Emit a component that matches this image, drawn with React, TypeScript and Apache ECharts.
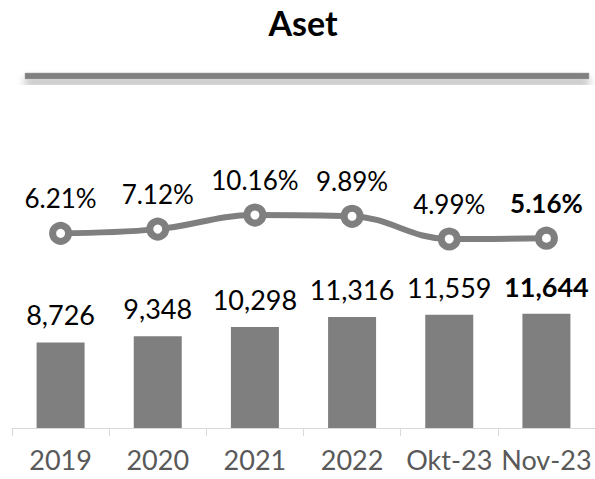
import React, { useEffect, useRef } from "react";
import * as echarts from "echarts";

const categories = ["2019", "2020", "2021", "2022", "Okt-23", "Nov-23"];
const assetValues = [8726, 9348, 10298, 11316, 11559, 11644];
const growthValues = [6.21, 7.12, 10.16, 9.89, 4.99, 5.16];
const titleText = "Aset";

const FONT = "Lato, 'Open Sans', sans-serif";
const GRAY = "#7f7f7f";

export default function App() {
  const ref = useRef<HTMLDivElement>(null);
  useEffect(() => {
    if (!ref.current) return;
    const chart = echarts.init(ref.current, undefined, { renderer: "svg" });
    const lastIdx = categories.length - 1;
    chart.setOption({
      animation: false,
      backgroundColor: "#ffffff",
      textStyle: { fontFamily: FONT },
      graphic: [
        {
          type: "text",
          x: 303,
          y: 22,
          style: {
            text: titleText,
            fontFamily: FONT,
            fontSize: 34,
            fontWeight: "bold",
            fill: "#000000",
            textAlign: "center",
            textVerticalAlign: "middle",
          },
        },
        {
          type: "rect",
          shape: { x: 25, y: 73, width: 564, height: 6 },
          style: {
            fill: "#808080",
            stroke: "#a0a0a0",
            lineWidth: 0.5,
            shadowBlur: 8,
            shadowOffsetY: 6,
            shadowColor: "rgba(0,0,0,0.35)",
          },
        },
      ],
      grid: { left: 12, width: 586, top: 130, bottom: 51, containLabel: false },
      xAxis: {
        type: "category",
        data: categories,
        boundaryGap: true,
        axisLine: { show: true, lineStyle: { color: "#d9d9d9", width: 1 } },
        axisTick: { show: true, alignWithLabel: false, length: 8, lineStyle: { color: "#d9d9d9" } },
        axisLabel: { color: "#595959", fontSize: 27, fontFamily: FONT, margin: 18, interval: 0 },
      },
      yAxis: [
        { type: "value", min: 0, max: 30400, show: false, splitLine: { show: false } },
        { type: "value", min: -35.74, max: 28.48, show: false, splitLine: { show: false } },
      ],
      series: [
        {
          type: "bar",
          yAxisIndex: 0,
          barWidth: 48,
          itemStyle: { color: GRAY },
          data: assetValues.map((v, i) => ({
            value: v,
            label: i === lastIdx ? { fontWeight: "bold" } : undefined,
          })),
          label: {
            show: true,
            position: "top",
            distance: 14,
            color: "#000000",
            fontSize: 27,
            fontFamily: FONT,
            formatter: (p: any) => Number(p.value).toLocaleString("en-US"),
          },
        },
        {
          type: "line",
          yAxisIndex: 1,
          smooth: 0.4,
          symbol: "circle",
          symbolSize: 16,
          lineStyle: { color: GRAY, width: 6 },
          itemStyle: { color: "#ffffff", borderColor: GRAY, borderWidth: 7 },
          data: growthValues.map((v, i) => ({
            value: v,
            label: i === lastIdx ? { fontWeight: "bold" } : undefined,
          })),
          label: {
            show: true,
            position: "top",
            distance: 11,
            color: "#000000",
            fontSize: 26,
            fontFamily: FONT,
            formatter: (p: any) => Number(p.value).toFixed(2) + "%",
          },
          z: 5,
        },
      ],
    });
    return () => chart.dispose();
  }, []);
  return (
    <div
      ref={ref}
      style={{ position: "fixed", left: 0, top: 0, width: 595, height: 479 }}
    />
  );
}
